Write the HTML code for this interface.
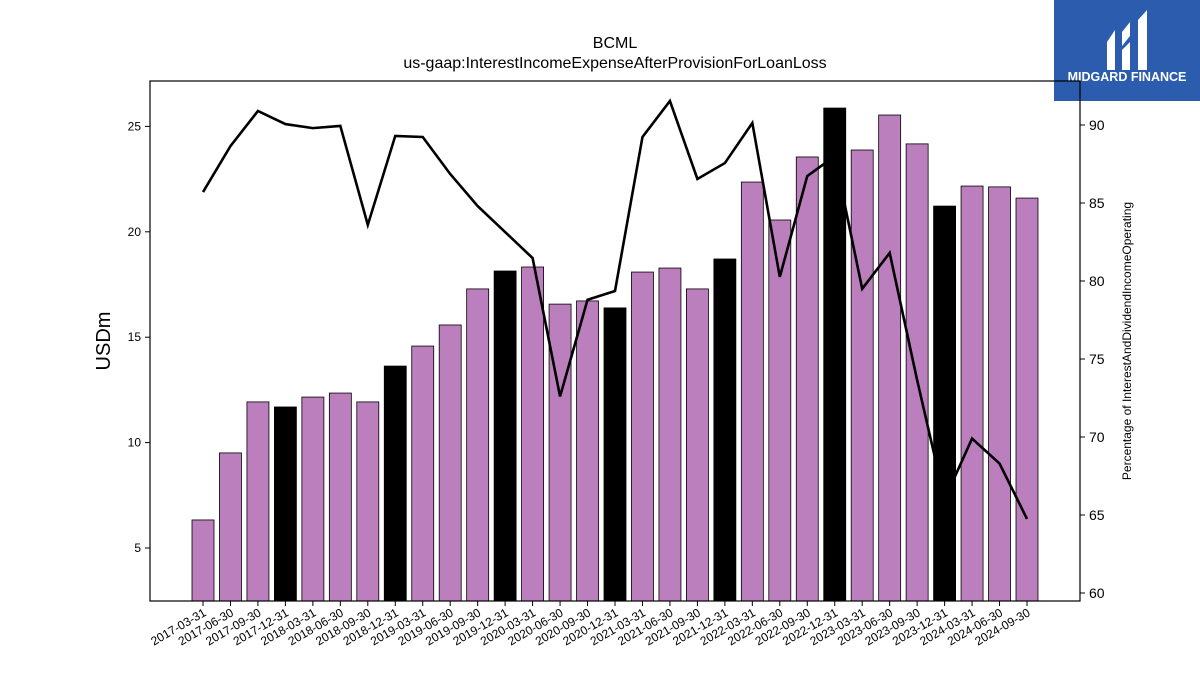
<!DOCTYPE html>
<html><head><meta charset="utf-8"><style>
body{margin:0;background:#fff;width:1200px;height:675px;overflow:hidden;font-family:"Liberation Sans","DejaVu Sans",sans-serif}
</style></head><body>
<svg id="c" width="1200" height="675" xmlns="http://www.w3.org/2000/svg">
<rect x="1054" y="0" width="146" height="101" fill="#2b5cad"/>
<g fill="#fff">
<path d="M1107 42 L1115 30 L1115 70 L1107 70 Z"/>
<path d="M1122 32 L1130 22 L1130 36 L1122 46 Z"/>
<path d="M1122 50 L1130 42 L1130 70 L1122 70 Z"/>
<path d="M1138 20 L1147 10 L1147 70 L1138 70 Z"/>
</g>
<text x="1127" y="81" fill="#fff" font-size="12.5" font-weight="bold" text-anchor="middle">MIDGARD FINANCE</text>
<text x="615" y="48" font-size="16" text-anchor="middle">BCML</text>
<text x="615" y="68" font-size="16" text-anchor="middle">us-gaap:InterestIncomeExpenseAfterProvisionForLoanLoss</text>
<g id="bars"></g><g id="line"></g><g id="axes"></g>
</svg>
<script>
const categories=["2017-03-31","2017-06-30","2017-09-30","2017-12-31","2018-03-31","2018-06-30","2018-09-30","2018-12-31","2019-03-31","2019-06-30","2019-09-30","2019-12-31","2020-03-31","2020-06-30","2020-09-30","2020-12-31","2021-03-31","2021-06-30","2021-09-30","2021-12-31","2022-03-31","2022-06-30","2022-09-30","2022-12-31","2023-03-31","2023-06-30","2023-09-30","2023-12-31","2024-03-31","2024-06-30","2024-09-30"];
const barValues=[6.33,9.51,11.93,11.69,12.16,12.35,11.93,13.63,14.58,15.58,17.29,18.14,18.33,16.57,16.72,16.39,18.09,18.28,17.29,18.71,22.36,20.56,23.55,25.87,23.88,25.54,24.17,21.22,22.17,22.13,21.6];
const lineValues=[85.7,88.65,90.9,90.06,89.8,89.94,83.6,89.3,89.23,86.86,84.8,83.14,81.47,72.6,78.8,79.36,89.23,91.54,86.54,87.56,90.13,80.26,86.73,88.0,79.5,81.8,73.65,66.0,69.9,68.3,64.75];
const leftTicks=[5,10,15,20,25];
const rightTicks=[60,65,70,75,80,85,90];
const NS="http://www.w3.org/2000/svg";
const L=150,R=1080,T=81,B=601;
const yL=v=>548-(v-5)*21.08;
const yR=v=>125+(90-v)*15.6;
const xC=i=>203+i*(1027-203)/(categories.length-1);
function mk(t,a,p){const e=document.createElementNS(NS,t);for(const k in a)e.setAttribute(k,a[k]);p.appendChild(e);return e;}
const bars=document.getElementById('bars'),line=document.getElementById('line'),axes=document.getElementById('axes');
barValues.forEach((v,i)=>{const black=(i%4===3);
const r=mk('rect',{x:xC(i)-11,y:yL(v),width:22,height:B-yL(v),fill:black?'#000':'#bc7fbd',stroke:'#000','stroke-width':0.8},bars);

});
const pl=mk('polyline',{points:lineValues.map((v,i)=>xC(i)+','+yR(v)).join(' '),fill:'none',stroke:'#000','stroke-width':2.6},line);


// redraw black bars over line
barValues.forEach((v,i)=>{if(i%4===3){const r=mk('rect',{x:xC(i)-11,y:yL(v),width:22,height:B-yL(v),fill:'#000'},line);

}});
const fr=mk('rect',{x:L,y:T,width:R-L,height:B-T,fill:'none',stroke:'#000','stroke-width':1.2},axes);


leftTicks.forEach(v=>{mk('line',{x1:L-5,x2:L,y1:yL(v),y2:yL(v),stroke:'#000'},axes);
const t=mk('text',{x:L-9,y:yL(v)+4,'font-size':12,'text-anchor':'end'},axes);t.textContent=v;

});
rightTicks.forEach(v=>{mk('line',{x1:R,x2:R+5,y1:yR(v),y2:yR(v),stroke:'#000'},axes);
const t=mk('text',{x:R+9,y:yR(v)+5,'font-size':14},axes);t.textContent=v;

});
categories.forEach((c,i)=>{mk('line',{x1:xC(i),x2:xC(i),y1:B,y2:B+5,stroke:'#000'},axes);
const t=mk('text',{x:xC(i)+4,y:B+14,'font-size':12,'text-anchor':'end',transform:`rotate(-30 ${xC(i)+4} ${B+14})`},axes);t.textContent=c;

});
const yt=mk('text',{x:110,y:341,'font-size':20,'text-anchor':'middle',transform:'rotate(-90 110 341)'},axes);yt.textContent='USDm';


const rt=mk('text',{x:1131,y:341,'font-size':12,'text-anchor':'middle',transform:'rotate(-90 1131 341)'},axes);rt.textContent='Percentage of InterestAndDividendIncomeOperating';


</script>
</body></html>
